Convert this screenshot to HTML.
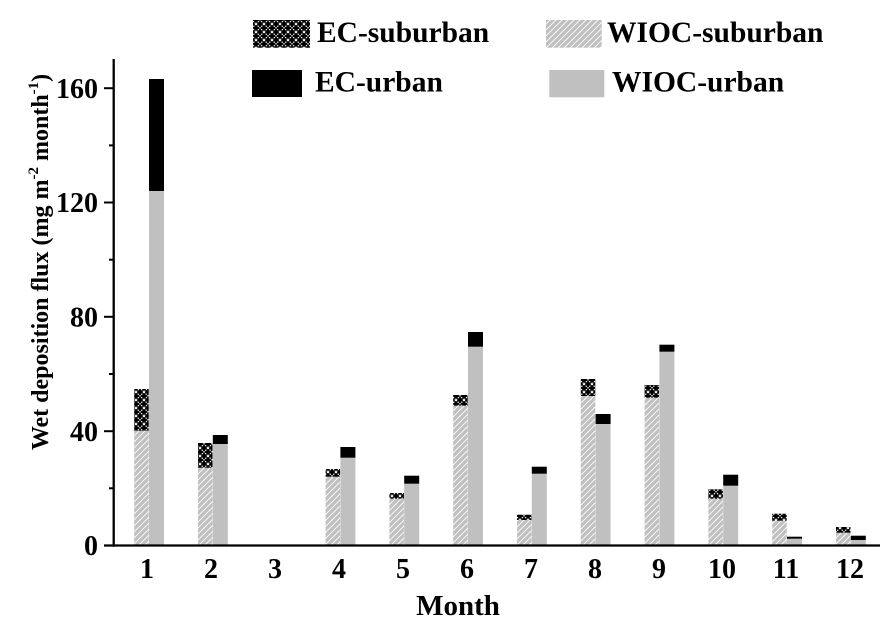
<!DOCTYPE html>
<html>
<head>
<meta charset="utf-8">
<style>
html,body{margin:0;padding:0;background:#fff;}
svg{display:block;}
text{font-family:"Liberation Serif","DejaVu Serif",serif;font-weight:bold;fill:#000;}
</style>
</head>
<body>
<svg width="893" height="625" viewBox="0 0 893 625" xmlns="http://www.w3.org/2000/svg">
<defs>
<pattern id="hatch" patternUnits="userSpaceOnUse" width="6" height="6">
<rect width="6" height="6" fill="#c0c0c0"/>
<path d="M0,6 L6,0 M-1,1 L1,-1 M5,7 L7,5" stroke="#ffffff" stroke-width="0.9"/>
</pattern>
<pattern id="cross" patternUnits="userSpaceOnUse" width="8" height="8">
<rect width="8" height="8" fill="#000"/>
<path d="M0,0 L8,8 M8,0 L0,8" stroke="#ffffff" stroke-width="1.1" stroke-dasharray="1.4,1"/>
</pattern>
</defs>
<rect width="893" height="625" fill="#fff"/>
<rect x="253" y="20" width="57" height="27.7" fill="url(#cross)"/>
<text x="317" y="42" font-size="29.5">EC-suburban</text>
<rect x="546" y="20" width="55.7" height="27.7" fill="url(#hatch)"/>
<text x="607" y="42" font-size="29.5">WIOC-suburban</text>
<rect x="252" y="70" width="50" height="27" fill="#000"/>
<text x="315" y="91.5" font-size="29.5">EC-urban</text>
<rect x="549.3" y="70" width="55" height="27.3" fill="#c0c0c0"/>
<text x="612" y="91.5" font-size="29.5">WIOC-urban</text>
<rect x="134.2" y="430.7" width="14.5" height="114.8" fill="url(#hatch)"/>
<rect x="134.2" y="389" width="14.5" height="41.7" fill="url(#cross)"/>
<rect x="149" y="191" width="15" height="354.5" fill="#c0c0c0"/>
<rect x="149" y="79" width="15" height="112" fill="#000"/>
<rect x="198" y="467.7" width="14.5" height="77.8" fill="url(#hatch)"/>
<rect x="198" y="443" width="14.5" height="24.7" fill="url(#cross)"/>
<rect x="212.8" y="444" width="15" height="101.5" fill="#c0c0c0"/>
<rect x="212.8" y="435" width="15" height="9" fill="#000"/>
<rect x="325.6" y="476.7" width="14.5" height="68.8" fill="url(#hatch)"/>
<rect x="325.6" y="469" width="14.5" height="7.7" fill="url(#cross)"/>
<rect x="340.4" y="457.7" width="15" height="87.8" fill="#c0c0c0"/>
<rect x="340.4" y="447" width="15" height="10.7" fill="#000"/>
<rect x="389.4" y="498.7" width="14.5" height="46.8" fill="url(#hatch)"/>
<rect x="389.4" y="493" width="14.5" height="5.7" fill="url(#cross)"/>
<rect x="404.2" y="483.7" width="15" height="61.8" fill="#c0c0c0"/>
<rect x="404.2" y="475.7" width="15" height="8" fill="#000"/>
<rect x="453.2" y="405.7" width="14.5" height="139.8" fill="url(#hatch)"/>
<rect x="453.2" y="395" width="14.5" height="10.7" fill="url(#cross)"/>
<rect x="468" y="346.7" width="15" height="198.8" fill="#c0c0c0"/>
<rect x="468" y="332" width="15" height="14.7" fill="#000"/>
<rect x="517" y="520" width="14.5" height="25.5" fill="url(#hatch)"/>
<rect x="517" y="514.7" width="14.5" height="5.3" fill="url(#cross)"/>
<rect x="531.8" y="473.7" width="15" height="71.8" fill="#c0c0c0"/>
<rect x="531.8" y="466.7" width="15" height="7" fill="#000"/>
<rect x="580.8" y="396" width="14.5" height="149.5" fill="url(#hatch)"/>
<rect x="580.8" y="379" width="14.5" height="17" fill="url(#cross)"/>
<rect x="595.6" y="424" width="15" height="121.5" fill="#c0c0c0"/>
<rect x="595.6" y="414" width="15" height="10" fill="#000"/>
<rect x="644.6" y="397.7" width="14.5" height="147.8" fill="url(#hatch)"/>
<rect x="644.6" y="385" width="14.5" height="12.7" fill="url(#cross)"/>
<rect x="659.4" y="351.7" width="15" height="193.8" fill="#c0c0c0"/>
<rect x="659.4" y="344.7" width="15" height="7" fill="#000"/>
<rect x="708.4" y="498.7" width="14.5" height="46.8" fill="url(#hatch)"/>
<rect x="708.4" y="489.3" width="14.5" height="9.4" fill="url(#cross)"/>
<rect x="723.2" y="485.7" width="15" height="59.8" fill="#c0c0c0"/>
<rect x="723.2" y="474.7" width="15" height="11" fill="#000"/>
<rect x="772.2" y="520.7" width="14.5" height="24.8" fill="url(#hatch)"/>
<rect x="772.2" y="513.7" width="14.5" height="7" fill="url(#cross)"/>
<rect x="787" y="538.7" width="15" height="6.8" fill="#c0c0c0"/>
<rect x="787" y="536.7" width="15" height="2" fill="#000"/>
<rect x="836" y="532.7" width="14.5" height="12.8" fill="url(#hatch)"/>
<rect x="836" y="527" width="14.5" height="5.7" fill="url(#cross)"/>
<rect x="850.8" y="540" width="15" height="5.5" fill="#c0c0c0"/>
<rect x="850.8" y="535.7" width="15" height="4.3" fill="#000"/>
<line x1="113.7" y1="59" x2="113.7" y2="546.7" stroke="#000" stroke-width="2.3"/>
<line x1="104" y1="545.5" x2="880" y2="545.5" stroke="#000" stroke-width="2.3"/>
<g stroke="#000" stroke-width="2">
<line x1="104" y1="431.2" x2="113" y2="431.2"/>
<line x1="104" y1="316.8" x2="113" y2="316.8"/>
<line x1="104" y1="202.5" x2="113" y2="202.5"/>
<line x1="104" y1="88.2" x2="113" y2="88.2"/>
<line x1="109" y1="488.3" x2="113" y2="488.3"/>
<line x1="109" y1="374" x2="113" y2="374"/>
<line x1="109" y1="259.7" x2="113" y2="259.7"/>
<line x1="109" y1="145.4" x2="113" y2="145.4"/>
</g>
<g font-size="28" text-anchor="end">
<text x="98" y="555">0</text>
<text x="98" y="441">40</text>
<text x="98" y="326.5">80</text>
<text x="98" y="212">120</text>
<text x="98" y="98">160</text>
</g>
<g font-size="28" text-anchor="middle">
<text x="147" y="578">1</text>
<text x="211" y="578">2</text>
<text x="275" y="578">3</text>
<text x="339" y="578">4</text>
<text x="403" y="578">5</text>
<text x="467" y="578">6</text>
<text x="531" y="578">7</text>
<text x="595" y="578">8</text>
<text x="659" y="578">9</text>
<text x="722" y="578">10</text>
<text x="786" y="578">11</text>
<text x="850" y="578">12</text>
</g>
<text x="458" y="615" font-size="29" text-anchor="middle">Month</text>
<text transform="translate(48,262) rotate(-90)" font-size="24" text-anchor="middle">Wet deposition flux (mg m<tspan font-size="15" dy="-10">-2</tspan><tspan dy="10"> month</tspan><tspan font-size="15" dy="-10">-1</tspan><tspan dy="10">)</tspan></text>
</svg>
</body>
</html>
